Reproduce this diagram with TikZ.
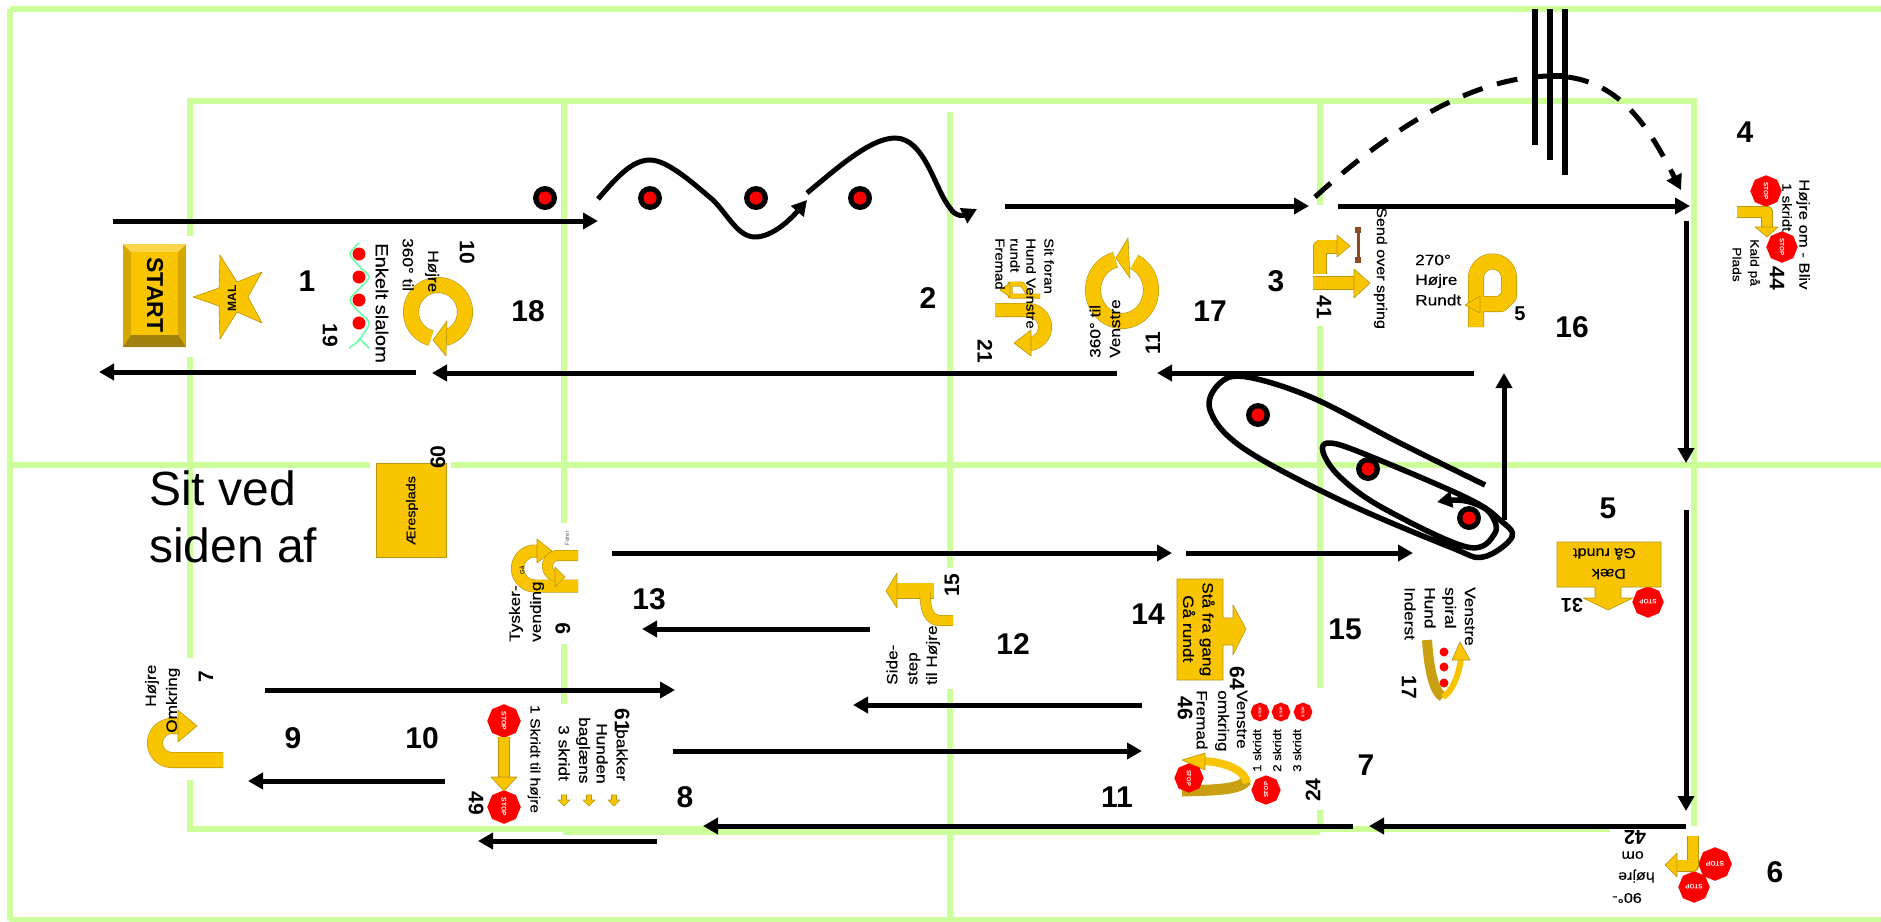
\documentclass[tikz,border=0pt]{standalone}
\usepackage{fontspec}
\setmainfont{Liberation Sans}
\newfontfamily\stf[FakeStretch=1.15,FakeBold=0.35]{Liberation Sans}
\usetikzlibrary{arrows.meta,shapes.geometric}
\definecolor{grn}{HTML}{CCFF99}
\definecolor{yel}{HTML}{F9C500}
\definecolor{ydk}{HTML}{B8960C}
\definecolor{gold}{HTML}{C9A012}
\definecolor{rd}{HTML}{FF0000}
\definecolor{brn}{HTML}{8B4A20}
\tikzset{
  gl/.style={draw=grn,line width=6pt},
  arr/.style={-{Triangle[length=15pt,width=16pt]},line width=5pt,draw=black},
  hurdle/.style={line width=5.5pt,draw=black},
  ybar/.style={line width=#1,draw=ydk,line join=round,postaction={draw=yel,line width=#1-1.2pt}},
  yhd/.style={fill=yel,draw=ydk,line width=0.6pt,line join=round},
  big/.style={font=\fontsize{30}{30}\selectfont\bfseries,inner sep=0pt},
  lbl/.style={anchor=west,inner sep=0pt,text=black},
  numb/.style={inner sep=0pt,text=black},
  dotk/.style={circle,fill=black,minimum size=24pt,inner sep=0pt},
  dotr/.style={circle,fill=rd,minimum size=13pt,inner sep=0pt},
  rdot/.style={circle,fill=rd,inner sep=0pt},
  stopn/.style={regular polygon,regular polygon sides=8,shape border rotate=22.5,fill=rd,inner sep=0pt,text=white}
}
\newcommand{\tl}[6]{\node[lbl,rotate=#4,font=\fontsize{#5}{#5}\selectfont\stf] (#1) at (#2,#3) {#6};}
\newcommand{\nm}[6]{\node[numb,rotate=#4,font=\fontsize{#5}{#5}\selectfont\bfseries] (#1) at (#2,#3) {#6};}
\newcommand{\stp}[5]{\pgfmathsetmacro\stz{#4*0.42}\node[stopn,rotate=#5,minimum size=#4*2.1pt] (#1) at (#2,#3) {};
  \node[inner sep=0pt,rotate=#5,text=white,font=\fontsize{\stz}{\stz}\selectfont\bfseries] (#1t) at (#2,#3) {STOP};}
\newcommand{\dott}[3]{\node[dotk] (#1) at (#2,#3) {}; \node[dotr] (#1r) at (#2,#3) {};}
\begin{document}
\begin{tikzpicture}[x=1pt,y=-1pt]
\useasboundingbox (0,0) rectangle (1881,921);
\fill[white] (0,0) rectangle (1881,921);
% green grid
\draw[gl] (10,9) -- (1881,9);
\draw[gl] (10,9) -- (10,921);
\draw[gl] (10,465) -- (370,465);
\draw[gl] (451,465) -- (1881,465);
\draw[gl] (10,920) -- (1881,920);
\draw[gl] (187,101) -- (1697,101);
\draw[gl] (187,829) -- (1610,829);
\draw[gl] (563,832) -- (1320,832);
\draw[gl] (190,101) -- (190,236);
\draw[gl] (190,357) -- (190,658);
\draw[gl] (190,780) -- (190,829);
\draw[gl] (564,101) -- (564,523);
\draw[gl] (564,644) -- (564,704);
\draw[gl] (950,112) -- (950,568);
\draw[gl] (950,689) -- (950,921);
\draw[gl] (1320,101) -- (1320,205);
\draw[gl] (1320,326) -- (1320,688);
\draw[gl] (1320,810) -- (1320,832);
\draw[gl] (1694,101) -- (1694,826);
% big numbers
\node[big] (n1) at (307,281) {1};
\node[big] (n2) at (928,298) {2};
\node[big] (n3) at (1276,281) {3};
\node[big] (n4) at (1745,132) {4};
\node[big] (n5) at (1608,508) {5};
\node[big] (n6) at (1775,872) {6};
\node[big] (n7) at (1366,765) {7};
\node[big] (n8) at (685,797) {8};
\node[big] (n9) at (293,738) {9};
\node[big] (n10) at (422,738) {10};
\node[big] (n11) at (1117,797) {11};
\node[big] (n12) at (1013,644) {12};
\node[big] (n13) at (649,599) {13};
\node[big] (n14) at (1148,614) {14};
\node[big] (n15) at (1345,629) {15};
\node[big] (n16) at (1572,327) {16};
\node[big] (n17) at (1210,311) {17};
\node[big] (n18) at (528,311) {18};
% Sit ved
\node[anchor=base west,inner sep=0pt,font=\fontsize{48}{48}\selectfont] (sit1) at (149,505) {Sit ved};
\node[anchor=base west,inner sep=0pt,font=\fontsize{48}{48}\selectfont] (sit2) at (149,562) {siden af};
% START
\fill[yel!85!black] (123,244) rectangle (186,347);
\fill[yel!70!white] (123,244) -- (186,244) -- (178,252) -- (131,252) -- cycle;
\fill[gold!80!black] (123,347) -- (186,347) -- (178,335) -- (131,335) -- cycle;
\fill[yel] (131,252) rectangle (178,335);
\node[numb,rotate=-90,font=\fontsize{23}{23}\selectfont\bfseries] (start) at (155,295) {START};
% star
\draw[yhd] (193,297) -- (219,288) -- (220,255) -- (237,282) -- (262,272) -- (248,297) -- (262,323) -- (237,312) -- (220,339) -- (219,306) -- cycle;
\node[numb,rotate=90,font=\fontsize{12}{12}\selectfont\bfseries] (mal) at (232,298) {MAL};
% slalom 19
\draw[draw=green!60!cyan!60,line width=1.5pt] plot[smooth] coordinates {(359,243) (350,254) (359,266) (369,277) (359,289) (350,300) (359,312) (369,323) (359,340) (349,348)};
\draw[draw=green!60!cyan!60,line width=1.5pt] (359,338) -- (369,348);
\foreach \yy/\nn in {254/a,277/b,300/c,323/d}{\node[rdot,minimum size=13pt] (sl\nn) at (359,\yy) {};}
\tl{ts1}{382}{243}{-90}{17.5}{Enkelt slalom}
\nm{ts2}{330}{335}{-90}{21}{19}
% ring 10
\draw[ybar=16pt] plot[domain=105:435,samples=50] ({438+27*cos(\x)},{312+27*sin(\x)});
\draw[yhd] (433,340) -- (447,321) -- (446,356) -- cycle;
\tl{t10a}{408}{238}{-90}{15}{360° til}
\tl{t10b}{432}{250}{-90}{15}{Højre}
\nm{t10c}{467}{252}{-90}{21}{10}
% 21
\draw[ybar=14pt] (995,310) -- (1028,310) -- plot[domain=-90:90,samples=30] ({1028+17*cos(\x)},{327+17*sin(\x)}) ;
\draw[yhd] (1014,343) -- (1031,330) -- (1031,356) -- cycle;
\draw[ybar=5pt] (1040,296) -- (1010,296) -- (1010,284) -- (1022,284) -- (1030,296);
\draw[yhd] (1000,290) -- (1010,283) -- (1010,297) -- cycle;
\tl{t21a}{1049}{238}{-90}{13}{Sit foran}
\tl{t21b}{1031}{238}{-90}{13}{Hund Venstre}
\tl{t21c}{1015}{238}{-90}{13}{rundt}
\tl{t21d}{1000}{238}{-90}{13}{Fremad}
\nm{t21e}{985}{351}{-90}{21}{21}
% ring 11
\draw[ybar=16pt] plot[domain=257:-65,samples=50] ({1122+29*cos(\x)},{290+31*sin(\x)});
\draw[yhd] (1116,258) -- (1128,238) -- (1130,278) -- cycle;
\tl{t11a}{1115}{358}{90}{15}{Venstre}
\tl{t11b}{1095}{358}{90}{15}{360° til}
\nm{t11c}{1153}{343}{90}{21}{11}
% 41
\draw[ybar=14pt] (1320,274) -- (1320,246.5) -- (1337,246.5);
\draw[yhd] (1350,246) -- (1337,235) -- (1337,257) -- cycle;
\draw[ybar=14pt] (1313,283) -- (1354,283);
\draw[yhd] (1370,283) -- (1354,269) -- (1354,298) -- cycle;
\draw[brn,line width=3pt] (1358,227) -- (1358,263);
\draw[brn,line width=6pt] (1358,227) -- (1358,233);
\draw[brn,line width=6pt] (1358,257) -- (1358,263);
\tl{t41a}{1380.5}{207}{-90}{14}{Send over spring}
\nm{t41b}{1324}{307}{-90}{21}{41}
% 5
\draw[ybar=16pt] (1476,327) -- (1476,278) -- plot[domain=180:360,samples=30] ({1492.5+16.5*cos(\x)},{278+16.5*sin(\x)}) -- (1509,296) -- (1501,304) -- (1480,304);
\draw[yhd] (1465,305) -- (1480,296) -- (1480,313) -- cycle;
\tl{t5a}{1415}{260}{0}{15}{270°}
\tl{t5b}{1415}{281}{0}{15}{Højre}
\tl{t5c}{1415}{300}{0}{15}{Rundt}
\nm{t5d}{1520}{314}{0}{20}{5}
% 44
\stp{s44a}{1766}{191}{15}{-90}
\stp{s44b}{1782}{247}{15}{-90}
\draw[ybar=12pt] (1737,212) -- (1767,212) -- (1767,227);
\draw[yhd] (1767,237) -- (1755,227) -- (1778,227) -- cycle;
\tl{t44a}{1803}{179}{-90}{14.5}{Højre om - Bliv}
\tl{t44b}{1787}{183}{-90}{13}{1 skridt}
\tl{t44c}{1754}{239}{-90}{12}{Kald på}
\tl{t44d}{1737}{247}{-90}{12}{Plads}
\nm{t44e}{1777}{278}{-90}{21}{44}
% 31
\stp{s31}{1648}{602}{15}{180}
\draw[yhd] (1557,542) -- (1661,542) -- (1661,587) -- (1621,587) -- (1621,598) -- (1633,598) -- (1608,610) -- (1583,598) -- (1595,598) -- (1595,587) -- (1557,587) -- cycle;
\tl{t31a}{1636}{554}{180}{14}{Gå rundt}
\tl{t31b}{1626}{574}{180}{14}{Dæk}
\nm{t31c}{1572}{605}{180}{20}{31}
% 42
\stp{s42a}{1715}{864}{16}{180}
\stp{s42b}{1694}{887}{15}{180}
\draw[ybar=12pt] (1693,836) -- (1693,865.5) -- (1677,865.5);
\draw[yhd] (1665,865) -- (1677,853) -- (1677,877) -- cycle;
\nm{t42a}{1635}{837}{180}{20}{42}
\tl{t42b}{1644}{855}{180}{14}{om}
\tl{t42c}{1655}{876}{180}{14}{højre}
\tl{t42d}{1642}{898}{180}{14}{90°-}
% 60
\fill[yel,draw=ydk,line width=0.6pt] (376,463) rectangle (446,557);
\tl{t60a}{412}{545}{90}{12.5}{Æresplads}
\nm{t60b}{438}{457}{90}{21}{60}
% Tysker
\draw[ybar=13pt] (578,586) -- (535,586) -- plot[domain=90:270,samples=30] ({535+17.5*cos(\x)},{568.5+17.5*sin(\x)}) -- (538,551);
\draw[yhd] (552,551) -- (537,539) -- (537,563) -- cycle;
\draw[ybar=11pt] (578,555.5) -- (558,555.5) -- plot[domain=270:90,samples=30] ({558+10.5*cos(\x)},{566+10.5*sin(\x)});
\draw[yhd] (565,577) -- (555,567) -- (555,587) -- cycle;
\node[numb,rotate=90,font=\fontsize{6}{6}\selectfont] (t9s) at (522,570) {Gå};
\node[numb,rotate=90,font=\fontsize{6}{6}\selectfont,text=black!60] (t9f) at (567,538) {Fører};
\tl{t9a}{516}{642}{90}{15}{Tysker-}
\tl{t9b}{537}{642}{90}{15}{vending}
\nm{t9c}{563}{629}{90}{21}{9}
% 15
\draw[ybar=16pt] (934,590.5) -- (897,590.5);
\draw[yhd] (886,591) -- (897,573) -- (897,608) -- cycle;
\draw[ybar=11pt] (953,620.5) -- (940,620.5) .. controls (930,620.5) and (925,612) .. (925,592);
\nm{t15a}{952}{585}{90}{21}{15}
\tl{t15b}{892}{685}{90}{15}{Side-}
\tl{t15c}{914}{685}{90}{15}{step}
\tl{t15d}{933}{685}{90}{15}{til Højre}
% 7 omkring
\draw[ybar=16pt] (223,760) -- (172,760) -- plot[domain=90:270,samples=30] ({172+17*cos(\x)},{743+17*sin(\x)}) -- (178,726);
\draw[yhd] (197,726) -- (178,710) -- (178,742) -- cycle;
\tl{t7a}{152}{707}{90}{15}{Højre}
\tl{t7b}{173}{733}{90}{15}{Omkring}
\nm{t7c}{206}{677}{90}{21}{7}
% 49
\stp{s49a}{504}{721}{16}{-90}
\stp{s49b}{504}{807}{16}{-90}
\draw[ybar=12pt] (504,737) -- (504,777);
\draw[yhd] (504,791) -- (491,777) -- (517,777) -- cycle;
\tl{t49a}{534}{705}{-90}{13.5}{1 Skridt til højre}
\tl{t49b}{564}{725}{-90}{15}{3 skridt}
\tl{t49c}{583}{717}{-90}{15}{baglæns}
\tl{t49d}{602}{723}{-90}{15}{Hunden}
\tl{t49e}{622}{729}{-90}{15}{bakker}
\nm{t49f}{622}{720}{-90}{21}{61}
\nm{t49g}{476}{803}{-90}{21}{49}
\foreach \xx/\nn in {564/a,589/b,614/c}{
  \draw[yhd] (\xx-2.5,795) -- (\xx+2.5,795) -- (\xx+2.5,800) -- (\xx+6,800) -- (\xx,806) -- (\xx-6,800) -- (\xx-2.5,800) -- cycle;
}
% 14
\draw[yhd] (1177,579) -- (1223,579) -- (1223,618) -- (1233,618) -- (1233,605) -- (1246,629) -- (1233,655) -- (1233,645) -- (1223,645) -- (1223,680) -- (1177,680) -- cycle;
\tl{t14a}{1207}{582}{-90}{15}{Stå fra gang}
\tl{t14b}{1189}{595}{-90}{15}{Gå rundt}
\nm{t14c}{1237}{678}{-90}{21}{64}
% 46/24
\draw[line width=11pt,draw=gold] (1182,791) .. controls (1215,790) and (1240,790) .. (1247,780);
\draw[line width=8pt,draw=yel] (1247,783) .. controls (1245,770) and (1225,762) .. (1203,761);
\draw[yhd] (1182,760) -- (1205,753) -- (1205,770) -- cycle;
\stp{s46a}{1189}{778}{14}{-90}
\stp{s46b}{1266}{790}{14}{90}
\stp{s46c}{1260}{712}{9}{90}
\stp{s46d}{1281}{712}{9}{90}
\stp{s46e}{1303}{712}{9}{90}
\tl{t46a}{1242}{690}{-90}{15}{Venstre}
\tl{t46b}{1222}{690}{-90}{15}{omkring}
\tl{t46c}{1202}{690}{-90}{15}{Fremad}
\nm{t46d}{1185}{708}{-90}{21}{46}
\tl{t46e}{1257}{772}{90}{11.5}{1 skridt}
\tl{t46f}{1277}{772}{90}{11.5}{2 skridt}
\tl{t46g}{1297}{772}{90}{11.5}{3 skridt}
\nm{t46h}{1313}{790}{90}{21}{24}
% 17 spiral clip
\draw[line width=10pt,draw=gold] (1427,640) .. controls (1429,670) and (1434,692) .. (1443,697);
\draw[line width=6pt,draw=yel] (1443,697) .. controls (1452,692) and (1459,675) .. (1461,658);
\draw[yhd] (1460,642) -- (1452,660) -- (1470,660) -- cycle;
\foreach \yy/\nn in {652/a,667/b,683/c}{\node[rdot,minimum size=9pt] (sp\nn) at (1444,\yy) {};}
\tl{t17a}{1470}{587}{-90}{15}{Venstre}
\tl{t17b}{1449}{587}{-90}{15}{spiral}
\tl{t17c}{1430}{587}{-90}{15}{Hund}
\tl{t17d}{1410}{587}{-90}{15}{Inderst}
\nm{t17e}{1409}{687}{-90}{21}{17}
% red dots
\dott{d1}{545}{198}
\dott{d2}{650}{198}
\dott{d3}{756}{198}
\dott{d4}{860}{198}
\dott{d5}{1258}{415}
\dott{d6}{1368}{469}
\dott{d7}{1469}{518}
% hurdle
\draw[hurdle] (1535,9) -- (1535,145);
\draw[hurdle] (1550,9) -- (1550,160);
\draw[hurdle] (1565,9) -- (1565,175);
\coordinate (ra) at (1550,76);
\coordinate (rb) at (1565,76);
\draw[hurdle] (ra) -- (rb);
% named end points
\foreach \nn/\cc in {a1/{113,221},b1/{598,221},a2/{1005,206},b2/{1309,206},a3/{1338,206},b3/{1690,206},
 a4/{1686,221},b4/{1686,463},a5/{1686,510},b5/{1686,811},a6/{1686,826},b6/{1369,826},a7/{1353,826},b7/{703,826},
 a8/{657,841},b8/{478,841},a9/{445,781},b9/{248,781},a10/{265,690},b10/{675,690},a11/{673,751},b11/{1142,751},
 a12/{1142,705},b12/{853,705},a13/{870,629},b13/{642,629},a14/{612,553},b14/{1172,553},a15/{1186,553},b15/{1413,553},
 a17/{1504,520},b17/{1504,373},a18/{1474,373},b18/{1157,373},a19/{1117,373},b19/{432,373},a20/{416,372},b20/{99,372},
 sa/{598,199},sb/{807,200},sc/{807,193},sd/{977,209},ka/{1315,197},kb/{1681,190},oa/{1485,485},ob/{1437,502}}
 {\coordinate (\nn) at (\cc);}
\foreach \i in {1,...,15,17,18,19,20}{\draw[arr] (a\i) -- (b\i);}
% slalom curves
\draw[arr] (sa) .. controls (617,177) and (632,160) .. (650,160) .. controls (668,160) and (695,185) .. (713,200) .. controls (728,215) and (738,237) .. (755,237) .. controls (772,237) and (790,220) .. (sb);
\draw[arr] (sc) .. controls (835,170) and (870,138) .. (895,138) .. controls (925,138) and (935,190) .. (950,208) .. controls (956,218) and (965,215) .. (sd);
% dashed jump
\draw[arr,dash pattern=on 21pt off 15pt] (ka) .. controls (1400,120) and (1480,76) .. (1552,76) .. controls (1620,76) and (1650,130) .. (kb);
% spiral
\draw[arr,line width=5.5pt,line join=round] plot[smooth,tension=0.6] coordinates {(oa) (1400,443) (1313,398) (1247,377) (1220,383) (1210,410) (1243,448) (1340,500) (1450,547) (1483,557) (1512,537) (1500,520) (1467,498) (1367,455) (1330,443) (1323,452) (1340,477) (1383,508) (1467,547) (1495,533) (1490,513) (1473,503) (1455,500) (ob)};
\end{tikzpicture}
\end{document}
